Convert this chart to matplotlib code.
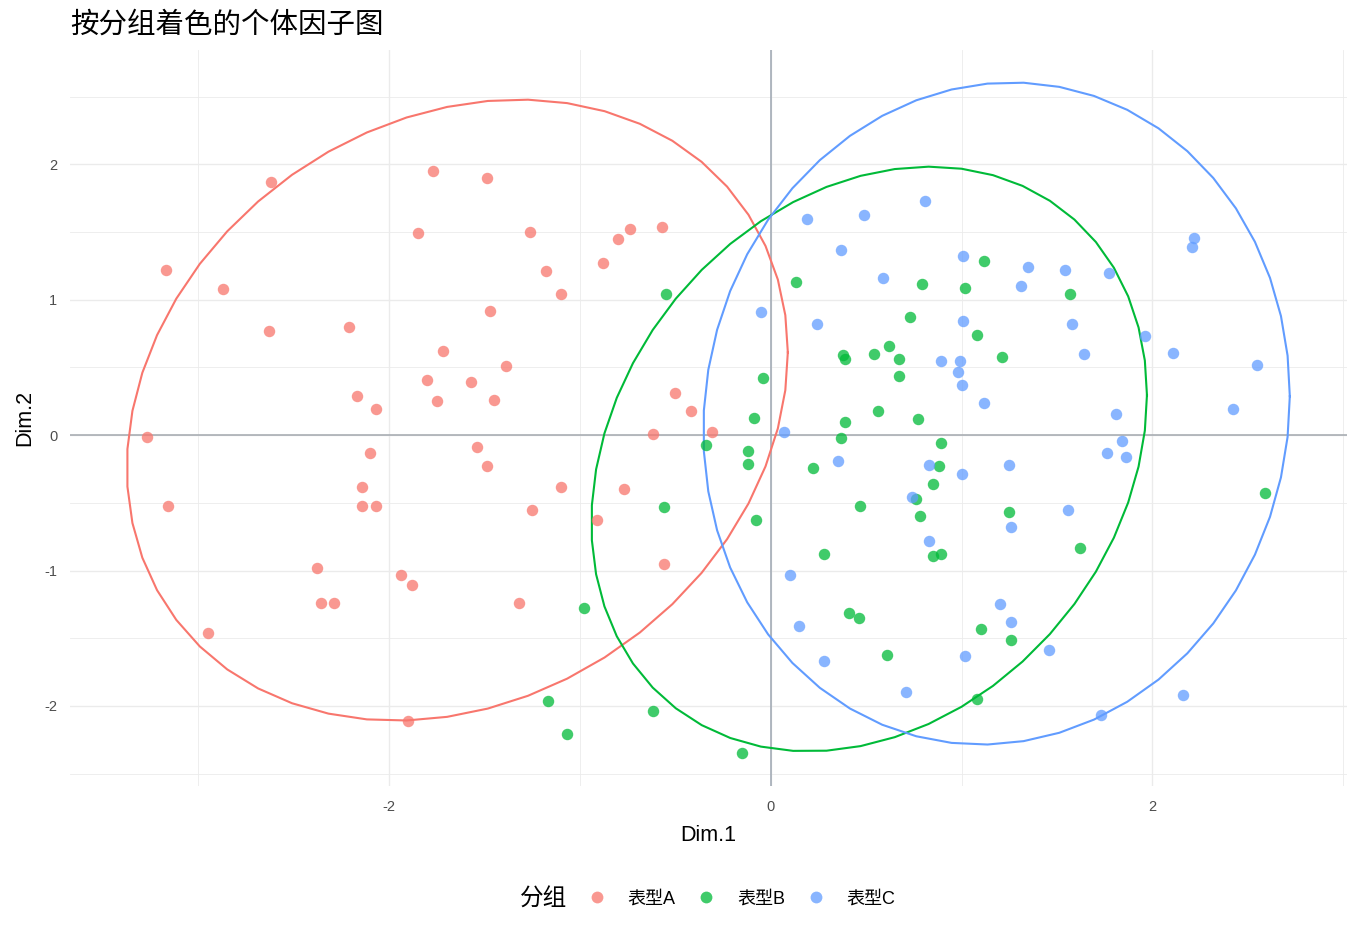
import numpy as np
import matplotlib
matplotlib.use("Agg")
import matplotlib.pyplot as plt
from matplotlib.lines import Line2D

plt.rcParams["font.family"] = ["Liberation Sans", "Noto Sans CJK SC"]
plt.rcParams["axes.unicode_minus"] = False

GROUPS = ["表型A", "表型B", "表型C"]
COLORS = ["#F8766D", "#00BA38", "#619CFF"]

dim1_a = [-2.62, -3.17, -2.87, -2.63, -2.21, -2.17, -2.07, -3.27, -1.85, -2.10,
          -2.14, -2.14, -2.07, -3.16, -2.38, -1.94, -1.88, -2.36, -2.29, -2.95,
          -1.90, -1.77, -1.49, -1.26, -1.18, -1.10, -1.47, -1.72, -1.39, -1.80,
          -1.57, -1.75, -1.45, -0.88, -0.80, -0.74, -0.57, -0.50, -0.42, -0.62,
          -0.31, -1.54, -1.49, -1.10, -1.25, -0.77, -0.91, -0.56, -1.32]
dim2_a = [1.87, 1.22, 1.08, 0.77, 0.80, 0.29, 0.19, -0.01, 1.49, -0.13,
          -0.38, -0.52, -0.52, -0.52, -0.98, -1.03, -1.11, -1.24, -1.24, -1.46,
          -2.11, 1.95, 1.90, 1.50, 1.21, 1.04, 0.92, 0.62, 0.51, 0.41,
          0.39, 0.25, 0.26, 1.27, 1.45, 1.52, 1.54, 0.31, 0.18, 0.01,
          0.02, -0.09, -0.23, -0.38, -0.55, -0.40, -0.63, -0.95, -1.24]

dim1_b = [-0.55, 0.13, 0.79, 1.12, 1.02, 1.57, 0.73, 1.08, 1.21, 0.62,
          0.38, 0.39, 0.54, 0.67, 0.67, -0.04, -0.09, 0.56, 0.39, 0.77,
          0.37, 0.89, -0.34, -0.12, -0.12, 0.22, 0.88, 0.85, 0.76, 0.47,
          -0.56, -0.08, 0.78, 1.25, 1.62, 0.28, 0.85, 0.89, -0.98, 0.41,
          0.46, 1.10, 1.26, 0.61, -1.17, -0.62, -1.07, -0.15, 1.08, 2.59]
dim2_b = [1.04, 1.13, 1.12, 1.29, 1.09, 1.04, 0.87, 0.74, 0.58, 0.66,
          0.59, 0.56, 0.60, 0.56, 0.44, 0.42, 0.13, 0.18, 0.10, 0.12,
          -0.02, -0.06, -0.07, -0.12, -0.21, -0.24, -0.23, -0.36, -0.47, -0.52,
          -0.53, -0.63, -0.60, -0.57, -0.83, -0.88, -0.89, -0.88, -1.28, -1.31,
          -1.35, -1.43, -1.51, -1.62, -1.96, -2.04, -2.21, -2.35, -1.95, -0.43]

dim1_c = [0.19, 0.49, 0.81, 0.37, 0.59, 1.01, 1.35, 1.31, 1.54, 1.77,
          2.22, 2.21, -0.05, 0.24, 1.01, 1.58, 1.64, 0.89, 0.99, 0.98,
          1.00, 1.96, 2.11, 2.55, 2.42, 1.81, 1.12, 0.07, 0.35, 0.83,
          1.00, 1.25, 1.84, 1.76, 1.86, 0.74, 0.83, 1.26, 1.56, 0.10,
          1.20, 1.26, 0.15, 1.46, 0.28, 1.02, 0.71, 2.16, 1.73]
dim2_c = [1.60, 1.63, 1.73, 1.37, 1.16, 1.32, 1.24, 1.10, 1.22, 1.20,
          1.46, 1.39, 0.91, 0.82, 0.84, 0.82, 0.60, 0.55, 0.55, 0.47,
          0.37, 0.73, 0.61, 0.52, 0.19, 0.16, 0.24, 0.02, -0.19, -0.22,
          -0.29, -0.22, -0.04, -0.13, -0.16, -0.46, -0.78, -0.68, -0.55, -1.03,
          -1.25, -1.38, -1.41, -1.59, -1.67, -1.63, -1.90, -1.92, -2.07]


def cov_trob(pts, nu=5, maxit=25, tol=0.01):
    # port of MASS::cov.trob (multivariate t, location estimated)
    n, p = pts.shape
    loc = pts.mean(axis=0)
    w = np.ones(n)
    for _ in range(maxit):
        w0 = w
        X = pts - loc
        _, d, vt = np.linalg.svd(np.sqrt(w / w.sum())[:, None] * X, full_matrices=False)
        wX = X @ vt.T / d
        Q = (wX ** 2).sum(axis=1)
        w = (nu + p) / (nu + Q)
        loc = (w[:, None] * pts).sum(axis=0) / w.sum()
        if np.all(np.abs(w - w0) < tol):
            break
    X = pts - loc
    cov = (np.sqrt(w)[:, None] * X).T @ (np.sqrt(w)[:, None] * X) / n
    return loc, cov


def t_ellipse(x, y, level=0.95, segments=51):
    # same as ggplot2 stat_ellipse(type = "t")
    pts = np.column_stack([x, y])
    center, cov = cov_trob(pts)
    dfd = len(pts) - 1
    qf = dfd / 2 * ((1 - level) ** (-2 / dfd) - 1)  # F(2, dfd) quantile
    radius = np.sqrt(2 * qf)
    angles = np.linspace(0, 2 * np.pi, segments + 1)
    unit = np.column_stack([np.cos(angles), np.sin(angles)])
    chol = np.linalg.cholesky(cov).T
    return center + radius * unit @ chol


fig = plt.figure(figsize=(13.62, 9.42), dpi=100)
ax = fig.add_axes([70 / 1362, 1 - 786 / 942, 1277 / 1362, 736 / 942])

ax.set_xlim(-3.673, 3.020)
ax.set_ylim(-2.591, 2.845)
ax.set_xticks([-2, 0, 2])
ax.set_xticks([-3, -1, 1, 3], minor=True)
ax.set_yticks([-2, -1, 0, 1, 2])
ax.set_yticks([-2.5, -1.5, -0.5, 0.5, 1.5, 2.5], minor=True)
ax.grid(which="major", color="#EBEBEB", linewidth=1.0)
ax.grid(which="minor", color="#EBEBEB", linewidth=0.6)
ax.set_axisbelow(True)
for side in ax.spines.values():
    side.set_visible(False)
ax.tick_params(which="both", length=0, colors="#4D4D4D", labelsize=10.5)
ax.tick_params(axis="x", pad=10)
ax.tick_params(axis="y", pad=9)

ax.axhline(0, color="#A3A8AE", linewidth=1.1, zorder=1)
ax.axvline(0, color="#9DA6B1", linewidth=1.1, zorder=1)

series = [(dim1_a, dim2_a), (dim1_b, dim2_b), (dim1_c, dim2_c)]
handles = []
for (xs, ys), name, col in zip(series, GROUPS, COLORS):
    ax.scatter(xs, ys, s=68, color=col, alpha=0.75, linewidths=0, zorder=3)
    ell = t_ellipse(xs, ys)
    ax.plot(ell[:, 0], ell[:, 1], color=col, linewidth=1.5, zorder=2)
    handles.append(Line2D([], [], marker="o", linestyle="none", markersize=8.5,
                          markerfacecolor=col, markeredgewidth=0, alpha=0.75, label=name))

ax.set_xlabel("Dim.1", fontsize=15.5, labelpad=8)
ax.set_ylabel("Dim.2", fontsize=15.5, labelpad=7)

fig.text(70 / 1362, 1 - 25 / 942, "按分组着色的个体因子图", fontsize=20.5,
         ha="left", va="center")

fig.text(520 / 1362, 1 - 900 / 942, "分组", fontsize=17, ha="left", va="center")
fig.legend(handles=handles, loc="center left", bbox_to_anchor=(588 / 1362, 1 - 899 / 942),
           ncol=3, frameon=False, fontsize=13, handlelength=1.0, handletextpad=1.2,
           columnspacing=1.2, borderpad=0, borderaxespad=0)

fig.savefig("out.png", dpi=100)
